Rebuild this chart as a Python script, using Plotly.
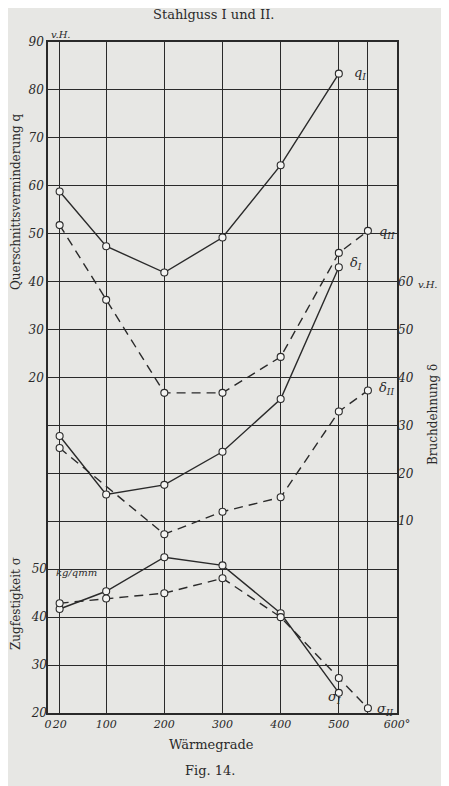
import plotly.graph_objects as go

# ---- data ----
temps = [20, 100, 200, 300, 400, 500]
temps_II = [20, 100, 200, 300, 400, 500, 550]
temps_dII = [20, 200, 300, 400, 500, 550]

q_I = [58.8, 47.4, 41.9, 49.2, 64.3, 83.4]
q_II = [51.8, 36.2, 16.8, 16.8, 24.3, 46.0, 50.6]

delta_I = [27.8, 15.6, 17.6, 24.5, 35.5, 63.0]
delta_II = [25.3, 7.3, 12.0, 15.0, 32.9, 37.3]

sigma_I = [41.7, 45.4, 52.5, 50.8, 40.8, 24.2]
sigma_II = [42.9, 43.9, 45.0, 48.1, 40.0, 27.3, 21.0]

x_ticks = [0, 20, 100, 200, 300, 400, 500, 550, 600]
x_ticktext = ["0", "20", "100", "200", "300", "400", "500", "", "600°"]
q_ticks = list(range(-40, 100, 10))
q_ticktext = ["" if v < 20 else str(v) for v in q_ticks]
delta_ticks = [10, 20, 30, 40, 50, 60]
sigma_ticks = [20, 30, 40, 50]

INK = "#2a2a2a"
PAPER = "#e7e7e4"
serif = "DejaVu Serif"
tickfont = dict(family=serif, size=12, color=INK, style="italic")
xtickfont = dict(family=serif, size=11, color=INK, style="italic")

fig = go.Figure()

def add(x, y, axis, dashed):
    fig.add_trace(go.Scatter(
        x=x, y=y, yaxis=axis, mode="lines+markers",
        line=dict(color=INK, width=1.4, dash="9px,6px" if dashed else "solid"),
        marker=dict(symbol="circle", size=7, color="#f4f4f2",
                    line=dict(color=INK, width=1.1)),
        showlegend=False, hoverinfo="skip"))

add(temps, q_I, "y", False)
add(temps_II, q_II, "y", True)
add(temps, delta_I, "y2", False)
add(temps_dII, delta_II, "y2", True)
add(temps, sigma_I, "y3", False)
add(temps_II, sigma_II, "y3", True)

# the page has an 8px body margin, so the figure is laid out 8px smaller
fig.update_layout(
    width=441, height=778,
    margin=dict(l=40, r=52, t=34, b=73, autoexpand=False),
    paper_bgcolor=PAPER, plot_bgcolor=PAPER,
    xaxis=dict(range=[0, 600], tickvals=x_ticks, ticktext=x_ticktext,
               showgrid=True, gridcolor=INK, gridwidth=1, zeroline=False,
               showline=True, linecolor=INK, linewidth=1.6, mirror=True,
               ticks="", tickangle=0, tickfont=xtickfont),
    yaxis=dict(range=[-50, 90], tickvals=q_ticks, ticktext=q_ticktext,
               showgrid=True, gridcolor=INK, gridwidth=1, zeroline=False,
               showline=True, linecolor=INK, linewidth=1.6, mirror=True,
               ticks="", tickfont=tickfont),
    yaxis2=dict(range=[-30, 110], tickvals=delta_ticks, overlaying="y",
                side="right", showgrid=False, zeroline=False, ticks="",
                tickfont=tickfont),
    yaxis3=dict(range=[20, 160], tickvals=sigma_ticks, overlaying="y",
                side="left", showgrid=False, zeroline=False, ticks="",
                tickfont=tickfont),
)

def ann(text, x, y, size=11, angle=0, family=serif, italic=False, xanchor="center"):
    fig.add_annotation(text=text, x=x, y=y, xref="paper", yref="paper",
                       xanchor=xanchor, yanchor="middle", showarrow=False,
                       textangle=angle,
                       font=dict(family=family, size=size, color=INK,
                                 style="italic" if italic else "normal"))

def px(xp): return (xp - 48) / (397 - 48)
def py(yp): return (713 - yp) / (713 - 42)

ann("Stahlguss I und II.", px(213), py(15), size=13)
ann("Wärmegrade", px(211), py(744), size=13)
ann("Fig. 14.", px(210), py(771), size=13)
ann("Querschnittsverminderung q", px(16), py(202), size=12, angle=-90)
ann("Zugfestigkeit σ", px(16), py(604), size=12, angle=-90)
ann("Bruchdehnung δ", px(433), py(415), size=12, angle=-90)
ann("v.H.", px(49), py(34), size=10, italic=True, xanchor="left")
ann("v.H.", px(416), py(284), size=10, italic=True, xanchor="left")
ann("kg/qmm", px(54), py(572), size=10, italic=True, xanchor="left")

ann("q<sub>I</sub>", px(352), py(74), size=13, italic=True, xanchor="left")
ann("q<sub>II</sub>", px(377), py(232), size=13, italic=True, xanchor="left")
ann("δ<sub>I</sub>", px(348), py(264), size=13, italic=True, xanchor="left")
ann("δ<sub>II</sub>", px(377), py(388), size=13, italic=True, xanchor="left")
ann("σ<sub>I</sub>", px(326), py(697), size=13, italic=True, xanchor="left")
ann("σ<sub>II</sub>", px(375), py(709), size=13, italic=True, xanchor="left")

fig.write_html("out.html")
